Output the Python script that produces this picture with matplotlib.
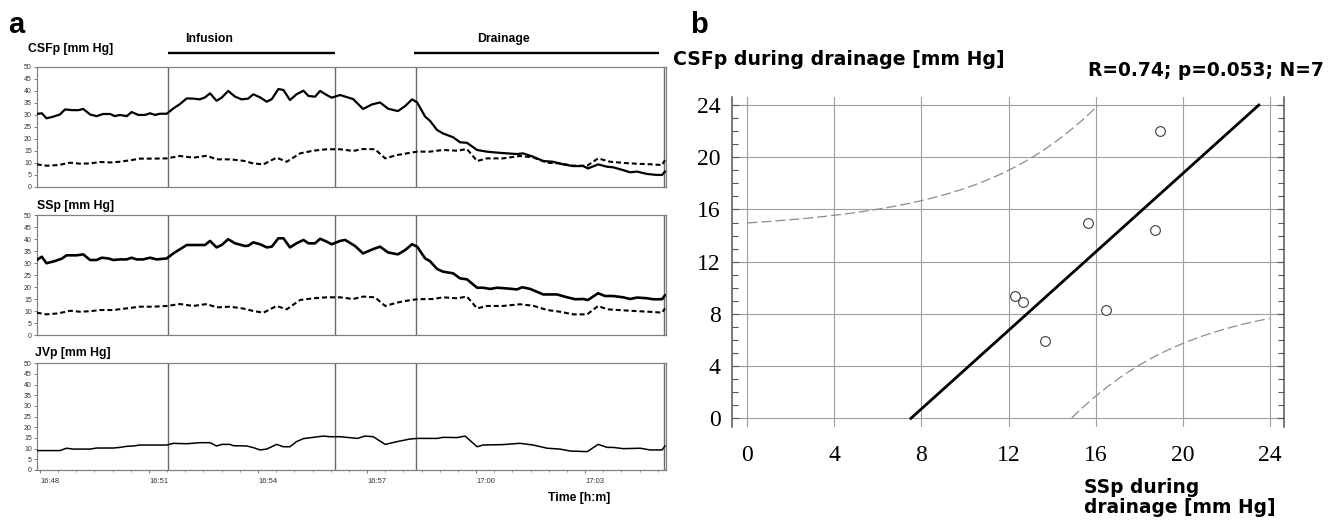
import numpy as np
import matplotlib
matplotlib.use("Agg")
import matplotlib.pyplot as plt
from matplotlib.transforms import blended_transform_factory
from matplotlib.ticker import MultipleLocator

# ---------------- data: panel a (minutes after 16:48) ----------------
csf_t = [-0.09, 0.05, 0.18, 0.37, 0.55, 0.69, 0.87, 1.06, 1.19, 1.38, 1.56, 1.74, 1.93, 2.06, 2.20,
         2.39, 2.52, 2.71, 2.89, 3.03, 3.17, 3.30, 3.49, 3.67, 3.85, 4.04, 4.22, 4.40, 4.54, 4.68,
         4.86, 5.00, 5.18, 5.37, 5.55, 5.73, 5.87, 6.06, 6.24, 6.38, 6.56, 6.70, 6.88, 7.06, 7.25,
         7.39, 7.57, 7.71, 7.89, 8.03, 8.26,
         8.62, 8.89, 9.14, 9.36, 9.58, 9.85, 10.05, 10.24, 10.38, 10.60, 10.73, 10.93, 11.09, 11.37,
         11.56, 11.75, 12.03, 12.30, 12.58, 12.85, 13.13, 13.29, 13.57, 13.85, 14.12, 14.40, 14.67,
         14.95, 15.08, 15.36, 15.61, 15.77, 16.05, 16.24, 16.43, 16.71, 16.98, 17.12, 17.20]
csf_v = [30.3, 30.6, 28.5, 29.2, 30.1, 32.2, 31.9, 31.9, 32.4, 30.1, 29.4, 30.3, 30.3, 29.4, 29.9,
         29.4, 31.1, 29.9, 29.9, 30.6, 29.9, 30.4, 30.4, 32.6, 34.4, 36.8, 36.7, 36.4, 37.2, 38.9,
         35.8, 37.1, 39.9, 37.5, 36.4, 36.7, 38.5, 37.2, 35.4, 36.5, 40.7, 40.3, 36.1, 38.5, 40.0,
         37.8, 37.5, 39.9, 38.2, 37.1, 38.2,
         36.5, 32.4, 34.3, 35.1, 32.5, 31.5, 33.6, 36.4, 35.1, 29.2, 27.5, 23.6, 22.2, 20.6,
         18.5, 18.3, 15.3, 14.6, 14.2, 13.9, 13.6, 13.9, 12.5, 10.7, 10.4, 9.3, 8.6,
         8.6, 7.6, 9.3, 8.3, 8.1, 6.9, 6.0, 6.3, 5.3, 4.9, 4.9, 6.3]

csf2_t = [-0.09, 0.18, 0.50, 0.83, 1.10, 1.38, 1.65, 1.93, 2.20, 2.52, 2.75, 3.12, 3.49, 3.85, 4.22,
          4.59, 4.86, 5.23, 5.60, 5.87, 6.15, 6.51, 6.79, 7.16, 7.52, 7.89, 8.26,
          8.62, 8.89, 9.22, 9.50, 9.83, 10.10, 10.38, 10.73, 11.09, 11.48, 11.75, 12.03, 12.30,
          12.74, 13.21, 13.57, 13.96, 14.31, 14.67, 15.06, 15.36, 15.69, 16.24, 16.87, 17.12, 17.20]
csf2_v = [9.3, 8.75, 9.0, 10.0, 9.6, 9.7, 10.3, 10.1, 10.4, 11.1, 11.7, 11.7, 11.8, 12.8, 12.1,
          12.9, 11.4, 11.4, 10.8, 9.7, 9.3, 12.1, 10.4, 13.9, 15.0, 15.6, 15.6,
          14.9, 15.7, 15.6, 11.8, 13.2, 13.9, 14.6, 14.6, 15.3, 15.0, 15.7, 10.7, 11.8,
          11.8, 12.8, 12.2, 10.0, 9.7, 8.75, 8.75, 11.8, 10.4, 9.7, 9.3, 9.0, 11.1]

ssp_t = [-0.09, 0.05, 0.18, 0.41, 0.60, 0.73, 1.01, 1.19, 1.38, 1.56, 1.70, 1.88, 2.02, 2.20, 2.39,
         2.52, 2.66, 2.84, 3.03, 3.21, 3.49, 3.67, 3.85, 4.04, 4.40, 4.54, 4.68, 4.86, 5.00, 5.18,
         5.37, 5.64, 5.73, 5.87, 6.06, 6.24, 6.38, 6.56, 6.70, 6.88, 7.06, 7.25, 7.39, 7.57, 7.71,
         7.89, 8.03, 8.26,
         8.40, 8.67, 8.89, 9.17, 9.36, 9.58, 9.85, 10.05, 10.24, 10.38, 10.60, 10.73, 10.93, 11.09,
         11.37, 11.56, 11.75, 12.03, 12.19, 12.39, 12.58, 12.85, 13.13, 13.27, 13.49, 13.85, 14.23,
         14.51, 14.73, 14.95, 15.08, 15.36, 15.55, 15.77, 16.05, 16.24, 16.43, 16.71, 16.87, 17.12, 17.20]
ssp_v = [31.25, 32.6, 29.9, 30.8, 31.8, 33.2, 33.2, 33.6, 31.25, 31.25, 32.2, 31.9, 31.25, 31.5, 31.5,
         32.2, 31.5, 31.5, 32.2, 31.5, 31.9, 34.0, 35.7, 37.5, 37.5, 37.5, 39.2, 36.5, 37.5, 39.9,
         38.2, 37.1, 37.2, 38.6, 37.8, 36.5, 36.8, 40.3, 40.3, 36.5, 38.2, 39.6, 38.2, 38.2, 40.1,
         38.9, 37.8, 39.2,
         39.6, 37.1, 34.0, 35.8, 36.8, 34.4, 33.6, 35.4, 37.8, 36.8, 31.9, 30.8, 27.5, 26.4,
         25.7, 23.6, 23.2, 19.7, 19.7, 19.2, 19.7, 19.4, 19.0, 19.9, 19.2, 16.9, 16.9,
         15.7, 14.9, 15.0, 14.6, 17.4, 16.25, 16.25, 15.7, 15.0, 15.6, 15.3, 14.9, 14.9, 16.5]

ssp2_t = [-0.09, 0.18, 0.50, 0.83, 1.10, 1.38, 1.65, 2.02, 2.39, 2.75, 3.12, 3.49, 3.85, 4.22, 4.59,
          4.86, 5.23, 5.60, 5.87, 6.15, 6.51, 6.79, 7.16, 7.52, 7.89, 8.26,
          8.62, 8.89, 9.22, 9.50, 9.83, 10.10, 10.38, 10.82, 11.09, 11.48, 11.75, 12.03, 12.30,
          12.74, 13.21, 13.57, 13.96, 14.31, 14.67, 15.06, 15.36, 15.61, 16.24, 16.87, 17.12, 17.20]
ssp2_v = [9.3, 8.6, 9.0, 10.1, 9.7, 9.9, 10.4, 10.4, 11.1, 11.8, 11.8, 12.1, 12.9, 12.1, 12.9,
          11.5, 11.8, 11.0, 10.0, 9.3, 12.1, 10.7, 14.6, 15.3, 15.7, 15.7,
          15.0, 16.0, 15.7, 12.1, 13.5, 14.3, 14.9, 15.0, 15.7, 15.3, 16.0, 11.1, 12.1,
          12.1, 12.8, 12.2, 10.4, 9.7, 8.6, 8.6, 12.1, 10.7, 10.1, 9.6, 9.3, 11.1]

jvp_t = [-0.09, 0.55, 0.73, 0.92, 1.38, 1.56, 2.02, 2.20, 2.39, 2.57, 2.75, 3.03, 3.49, 3.67, 4.04,
         4.40, 4.68, 4.86, 5.00, 5.23, 5.32, 5.69, 5.87, 6.06, 6.24, 6.51, 6.70, 6.88, 7.06, 7.25,
         7.52, 7.80, 7.98, 8.26,
         8.73, 8.95, 9.17, 9.50, 9.83, 10.18, 10.38, 10.93, 11.09, 11.48, 11.70, 12.03, 12.19,
         12.74, 13.21, 13.57, 13.96, 14.31, 14.59, 15.06, 15.36, 15.61, 15.77, 16.05, 16.52,
         16.79, 17.12, 17.20]
jvp_v = [9.1, 9.1, 10.2, 9.8, 9.8, 10.3, 10.3, 10.6, 11.1, 11.25, 11.7, 11.7, 11.7, 12.5, 12.3,
         12.8, 12.8, 11.25, 12.0, 12.0, 11.4, 11.25, 10.5, 9.4, 9.8, 12.0, 10.9, 10.9, 13.3, 14.7,
         15.3, 15.9, 15.6, 15.6,
         14.8, 15.9, 15.6, 12.0, 13.3, 14.5, 14.8, 14.8, 15.3, 15.2, 15.9, 10.9, 11.7,
         11.9, 12.5, 11.7, 10.2, 9.8, 8.9, 8.6, 12.0, 10.6, 10.6, 10.0, 10.2,
         9.4, 9.4, 11.25]

event_times = [3.52, 8.12, 10.35, 17.16]
phase_names = ["Infusion", "Drainage"]
phase_start = [3.52, 10.29]
phase_end = [8.12, 17.04]
phase_label_x = [3.99, 12.03]
time_ticks = [0, 3, 6, 9, 12, 15]
time_labels = ["16:48", "16:51", "16:54", "16:57", "17:00", "17:03"]
panel_titles = ["CSFp [mm Hg]", "SSp [mm Hg]", "JVp [mm Hg]"]

# ---------------- data: panel b ----------------
ssp_drain = [12.30, 12.68, 13.67, 16.48, 15.66, 18.74, 18.96]
csf_drain = [9.37, 8.94, 5.92, 8.30, 14.94, 14.43, 22.02]
T_CRIT = 2.5706  # t(0.975, df=5)

# ---------------- figure ----------------
fig = plt.figure(figsize=(13.36, 5.2), dpi=100)
W, H = 1336.0, 520.0

SANS = ["Liberation Sans", "DejaVu Sans"]

def px_axes(l, t, r, b):
    return [l / W, 1 - b / H, (r - l) / W, (b - t) / H]

panel_boxes = [(36.7, 66.7, 665.7, 186.7), (36.7, 215.0, 665.7, 335.0), (36.7, 363.3, 665.7, 470.0)]
title_pos = [(28, 52), (36.7, 209), (35, 355.7)]
axs = []
for i, box in enumerate(panel_boxes):
    ax = fig.add_axes(px_axes(*box))
    axs.append(ax)
    ax.set_xlim(-0.09, 17.22)
    ax.set_ylim(0, 50)
    ax.set_yticks(np.arange(0, 51, 5))
    ax.tick_params(axis="y", labelsize=5, labelcolor="#333333", length=2.5, width=0.6,
                   color="#666666", pad=1)
    for lab in ax.get_yticklabels():
        lab.set_family(SANS)
    for s in ax.spines.values():
        s.set_color("#808080")
        s.set_linewidth(0.9)
    for t in event_times:
        ax.axvline(t, color="#6a6a6a", lw=1.0, zorder=1)
    fig.text(title_pos[i][0] / W, 1 - title_pos[i][1] / H, panel_titles[i],
             fontsize=8.8, fontweight="bold", family=SANS, ha="left", va="baseline")
    if i < 2:
        ax.set_xticks([])

dot_style = dict(color="black", lw=1.5, linestyle=(0, (2.4, 1.4)), zorder=3)
axs[0].plot(csf_t, csf_v, color="black", lw=1.6, zorder=3)
axs[0].plot(csf2_t, csf2_v, **dot_style)
axs[1].plot(ssp_t, ssp_v, color="black", lw=1.9, zorder=3)
axs[1].plot(ssp2_t, ssp2_v, **dot_style)
axs[2].plot(jvp_t, jvp_v, color="black", lw=1.1, zorder=3)

axb = axs[2]
axb.set_xticks(time_ticks)
axb.set_xticklabels(time_labels, ha="left")
axb.xaxis.set_minor_locator(MultipleLocator(0.5))
axb.tick_params(axis="x", which="major", labelsize=5.5, labelcolor="#333333", length=2.5,
                width=0.6, color="#666666", pad=3)
axb.tick_params(axis="x", which="minor", length=1.5, width=0.5, color="#666666")
for lab in axb.get_xticklabels():
    lab.set_family(SANS)
fig.text(547.7 / W, 1 - 500.7 / H, "Time [h:m]", fontsize=8.8, fontweight="bold",
         family=SANS, ha="left", va="baseline")

# phase bars above top panel
trans = blended_transform_factory(axs[0].transData, axs[0].transAxes)
for name, s0, s1, lx in zip(phase_names, phase_start, phase_end, phase_label_x):
    axs[0].plot([s0, s1], [1.114, 1.114], color="black", lw=1.7, transform=trans,
                clip_on=False, solid_capstyle="butt")
    axs[0].text(lx, 1.21, name, transform=trans, fontsize=8.8, fontweight="bold",
                family=SANS, ha="left", va="baseline")

fig.text(8 / W, 1 - 33 / H, "a", fontsize=21, fontweight="bold", family=SANS,
         ha="left", va="baseline")

# ---------------- panel b ----------------
ax2 = fig.add_axes(px_axes(731.7, 96.7, 1284.3, 426.7))
ax2.set_xlim(-0.72, 24.67)
ax2.set_ylim(-0.64, 24.64)
ax2.set_xticks(np.arange(0, 25, 4))
ax2.set_yticks(np.arange(0, 25, 4))
ax2.yaxis.set_minor_locator(MultipleLocator(1))
ax2.grid(True, which="major", color="#a0a0a0", lw=0.8)
ax2.set_axisbelow(True)
for side in ["top", "bottom"]:
    ax2.spines[side].set_visible(False)
for side in ["left", "right"]:
    ax2.spines[side].set_color("#555555")
    ax2.spines[side].set_linewidth(1.1)
ax2.tick_params(axis="y", which="both", direction="in", left=True, right=True,
                color="#555555", width=0.8)
ax2.tick_params(axis="y", which="major", length=5, labelsize=17, pad=8)
ax2.tick_params(axis="y", which="minor", length=4)
ax2.tick_params(axis="x", length=0, labelsize=17, pad=13)
for lab in ax2.get_xticklabels() + ax2.get_yticklabels():
    lab.set_family(["Liberation Serif", "DejaVu Serif"])

x = np.array(ssp_drain)
y = np.array(csf_drain)
n = len(x)
slope, intercept = np.polyfit(x, y, 1)
resid = y - (slope * x + intercept)
s = np.sqrt(np.sum(resid ** 2) / (n - 2))
sxx = np.sum((x - x.mean()) ** 2)
y_lo, y_hi = 0.0, 24.0
x_line = np.array([(y_lo - intercept) / slope, (y_hi - intercept) / slope])
ax2.plot(x_line, slope * x_line + intercept, color="black", lw=2.0, zorder=4)

xs = np.linspace(0, 24, 600)
half = T_CRIT * s * np.sqrt(1 + 1.0 / n + (xs - x.mean()) ** 2 / sxx)
yfit = slope * xs + intercept
for band in (yfit + half, yfit - half):
    b = band.copy()
    b[(b > 24) | (b < 0)] = np.nan
    ax2.plot(xs, b, color="#8c8c8c", lw=0.9, linestyle=(0, (8, 3.2)), zorder=3)

ax2.plot(x, y, linestyle="none", marker="o", markersize=7, markerfacecolor="white",
         markeredgecolor="#3a3a3a", markeredgewidth=0.8, zorder=5)

BOLD2 = ["DejaVu Sans"]
fig.text(690 / W, 1 - 33 / H, "b", fontsize=21, fontweight="bold", family=SANS,
         ha="left", va="baseline")
fig.text(673 / W, 1 - 65 / H, "CSFp during drainage [mm Hg]", fontsize=13.6,
         fontweight="bold", family=BOLD2, ha="left", va="baseline")
fig.text(1323.7 / W, 1 - 76 / H, "R=0.74; p=0.053; N=7", fontsize=13.4,
         fontweight="bold", family=BOLD2, ha="right", va="baseline")
fig.text(1084.3 / W, 1 - 493.3 / H, "SSp during", fontsize=13.4, fontweight="bold",
         family=BOLD2, ha="left", va="baseline")
fig.text(1084.3 / W, 1 - 513.3 / H, "drainage [mm Hg]", fontsize=13.4, fontweight="bold",
         family=BOLD2, ha="left", va="baseline")

fig.savefig("out.png", dpi=100)
